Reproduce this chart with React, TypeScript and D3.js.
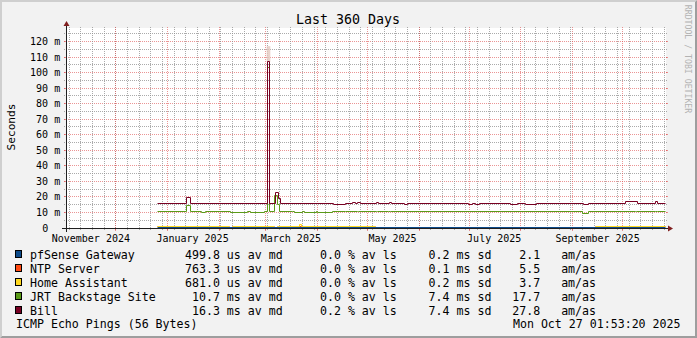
import React from 'react';
import * as d3 from 'd3';

const W = 697;
const H = 338;
const END = Date.UTC(2025, 9, 27, 1, 53, 20);
const SPAN_DAYS = 360;
const START = END - SPAN_DAYS * 864e5;
const Y_MAX = 128.7;

const title = 'Last 360 Days';
const yAxisTitle = 'Seconds';
const yMajorTicks = [0, 10, 20, 30, 40, 50, 60, 70, 80, 90, 100, 110, 120];
const yMinorTicks = [5, 15, 25, 35, 45, 55, 65, 75, 85, 95, 105, 115, 125];

// series: [day offset from window start, value in ms] (step-after); null = no data
const pfSensePts: [number, number | null][] = [[54.8, 0.5], [359.4, 0.5]];
const ntpPts: [number, number | null][] = [
  [54.8, 0.76], [98.0, null], [100.0, 0.76], [125.0, null], [127.0, 0.76], [185.4, null], [317.4, 0.76], [359.4, 0.76],
];
const haPts: [number, number | null][] = [
  [54.8, 0.68], [98.0, null], [100.0, 0.68], [125.0, null], [127.0, 0.68], [140.0, 2.0], [141.2, 0.68], [185.4, null], [317.4, 0.68], [359.4, 0.68],
];
const jrtPts: [number, number | null][] = [
  [54.8, 10.5], [72.4, 14.2], [74.4, 10.5], [81.4, 10.0], [83.4, 10.5], [98.4, 10.0], [108.6, 10.6], [110.4, 10.0],
  [118.8, 10.6], [120.8, 103], [122.2, 10.6], [125.2, 20.6], [126.8, 15.0], [127.8, 10.3], [136.0, 10.7], [137.0, 10.2],
  [142.0, 10.7], [143.0, 10.2], [150.0, 10.7], [151.0, 10.2], [160.0, 10.6], [167.4, 10.3], [174.6, 10.8], [175.2, 10.3],
  [186.4, 10.8], [187.0, 10.3], [193.6, 10.9], [194.4, 10.3], [310.0, 9.5], [313.2, 10.3], [341.4, 10.9], [342.4, 10.3],
  [353.6, 10.9], [354.6, 10.3], [359.4, 10.3],
];
const billPts: [number, number | null][] = [
  [54.8, 16.0], [72.4, 19.5], [74.4, 16.0], [120.8, 107], [122.2, 16.0], [125.6, 23.0], [127.2, 18.7], [128.4, 16.0],
  [160.2, 15.3], [167.4, 16.0], [171.6, 16.7], [173.4, 16.0], [174.6, 16.7], [176.4, 16.0], [186.0, 16.7], [187.2, 16.0],
  [193.8, 16.6], [195.0, 16.0], [203.4, 15.4], [204.6, 16.0], [241.2, 15.4], [243.6, 16.0], [245.4, 15.3], [248.4, 16.0],
  [266.4, 15.4], [270.6, 16.0], [275.4, 15.4], [282.0, 16.0], [310.2, 15.4], [313.2, 16.0], [335.4, 17.0], [342.6, 16.0],
  [353.4, 16.8], [354.6, 16.0], [359.4, 16.0],
];
// faint smoke above the spike: [day start, day end, low ms, high ms]
const billSmoke: [number, number, number, number][] = [[120.4, 122.6, 107, 117]];

const seriesNames = ['pfSense Gateway', 'NTP Server', 'Home Assistant', 'JRT Backstage Site', 'Bill'];
const seriesColors = ['#0c4a89', '#ff4a12', '#ffd820', '#5a9a18', '#780022'];
const seriesPts = [pfSensePts, ntpPts, haPts, jrtPts, billPts];
const medValues = [499.8, 763.3, 681.0, 10.7, 16.3];
const medUnits = ['u', 'u', 'u', 'm', 'm'];
const lossValues = [0.0, 0.0, 0.0, 0.0, 0.2];
const sdValues = [0.2, 0.1, 0.2, 7.4, 7.4];
const amasValues = [2.1, 5.5, 3.7, 17.7, 27.8];
const footerLeft = 'ICMP Echo Pings (56 Bytes)';
const footerRight = 'Mon Oct 27 01:53:20 2025';
const watermark = 'RRDTOOL / TOBI OETIKER';

const MONO = "'DejaVu Sans Mono', monospace";
const X0 = 66, XW = 600, Y0 = 228, YH = 200;

const x = d3.scaleUtc().domain([new Date(START), new Date(END)]).range([X0, X0 + XW]);
const y = d3.scaleLinear().domain([0, Y_MAX]).range([Y0, Y0 - YH]);
const dayDate = (d: number) => new Date(START + d * 864e5);
const snap = (v: number) => Math.floor(v) + 0.5;
const pad = (s: string, n: number) => s.padStart(n, ' ');

function stepPath(pts: [number, number | null][]) {
  let d = '';
  let pen = false;
  for (let i = 0; i < pts.length - 1; i++) {
    const [t, v] = pts[i];
    const tn = pts[i + 1][0];
    if (v == null) { pen = false; continue; }
    const xa = snap(x(dayDate(t))), xb = snap(x(dayDate(tn))), yy = snap(y(v));
    d += (pen ? 'L' : 'M') + xa + ',' + yy + 'L' + xb + ',' + yy;
    pen = true;
  }
  return d;
}

export default function App() {
  const months = d3.utcMonth.range(new Date(START), new Date(END));
  const sundays = d3.utcSunday.range(new Date(START), new Date(END));
  const labelMonths = d3.utcMonth.every(2)!.range(d3.utcMonth.floor(new Date(START)), new Date(END));
  const fmt = d3.utcFormat('%B %Y');
  const gridMinor = 'rgba(143,143,143,0.75)';
  const gridMajor = 'rgba(222,79,79,0.6)';

  return (
    <svg width={W} height={H} style={{ position: 'absolute', left: 0, top: 0 }} xmlns="http://www.w3.org/2000/svg">
      <rect x={0} y={0} width={W} height={H} fill="#f2f2f2" />
      <polygon points={`0,${H} 2,${H - 2} 2,2 ${W - 2},2 ${W},0 0,0`} fill="#cfcfcf" />
      <polygon points={`2,${H - 2} ${W - 2},${H - 2} ${W - 2},2 ${W},0 ${W},${H} 0,${H}`} fill="#9e9e9e" />
      <rect x={X0} y={Y0 - YH} width={XW} height={YH} fill="#ffffff" />

      {/* horizontal grid */}
      {yMinorTicks.map((v) => {
        const yy = snap(y(v));
        return (
          <g key={'hm' + v}>
            <line x1={X0 - 2} x2={X0 + XW + 2} y1={yy} y2={yy} stroke={gridMinor} strokeDasharray="1,1" />
          </g>
        );
      })}
      {yMajorTicks.filter((v) => v > 0).map((v) => {
        const yy = snap(y(v));
        return (
          <g key={'hM' + v}>
            <line x1={X0 - 2} x2={X0 + XW + 2} y1={yy} y2={yy} stroke={gridMajor} strokeDasharray="1,1" />
            <line x1={X0 - 2} x2={X0} y1={yy} y2={yy} stroke={gridMajor} />
            <line x1={X0 + XW} x2={X0 + XW + 2} y1={yy} y2={yy} stroke={gridMajor} />
          </g>
        );
      })}
      {/* vertical grid */}
      {sundays.map((d) => {
        const xx = snap(x(d));
        return <line key={'vm' + d.getTime()} x1={xx} x2={xx} y1={Y0 + 2} y2={Y0 - YH - 2} stroke={gridMinor} strokeDasharray="1,1" />;
      })}
      {months.map((d) => {
        const xx = snap(x(d));
        return (
          <g key={'vM' + d.getTime()}>
            <line x1={xx} x2={xx} y1={Y0 + 2} y2={Y0 - YH - 2} stroke={gridMajor} strokeDasharray="1,1" />
            <line x1={xx} x2={xx} y1={Y0} y2={Y0 + 3} stroke={gridMajor} />
          </g>
        );
      })}

      {/* y labels */}
      {yMajorTicks.map((v) => {
        const yy = snap(y(v)) + 3.5;
        return v === 0 ? (
          <text key={'yl' + v} x={48.2} y={yy} fontFamily={MONO} fontSize={10} textAnchor="end" fill="#000">0</text>
        ) : (
          <text key={'yl' + v} x={60.2} y={yy} fontFamily={MONO} fontSize={10} textAnchor="end" fill="#000">{`${v} m`}</text>
        );
      })}
      {/* x labels */}
      {labelMonths.map((d) => (
        <text key={'xl' + d.getTime()} x={x(new Date(d.getTime() + 15 * 864e5))} y={241.5} fontFamily={MONO} fontSize={10} textAnchor="middle" fill="#000">
          {fmt(d)}
        </text>
      ))}

      {/* data */}
      {billSmoke.map(([a, b, lo, hi], i) => (
        <rect key={'sm' + i} x={x(dayDate(a))} width={x(dayDate(b)) - x(dayDate(a))} y={y(hi)} height={y(lo) - y(hi)} fill="#e4c8bf" opacity={0.8} />
      ))}
      {seriesPts.map((pts, i) => (
        <path key={'s' + i} d={stepPath(pts)} fill="none" stroke={seriesColors[i]} strokeWidth={1} />
      ))}

      {/* axes */}
      <line x1={X0 - 4} x2={X0 + XW + 4} y1={Y0 + 0.5} y2={Y0 + 0.5} stroke="#1f1f1f" />
      <line x1={X0 + 0.5} x2={X0 + 0.5} y1={Y0 + 4} y2={Y0 - YH - 4} stroke="#1f1f1f" />
      <polygon points={`${X0 + XW + 2},${Y0 - 2.5} ${X0 + XW + 2},${Y0 + 3.5} ${X0 + XW + 7},${Y0 + 0.5}`} fill="#801f1f" />
      <polygon points={`${X0 - 2.5},${Y0 - YH - 2} ${X0 + 3.5},${Y0 - YH - 2} ${X0 + 0.5},${Y0 - YH - 7}`} fill="#801f1f" />

      {/* titles */}
      <text x={348} y={24} fontFamily={MONO} fontSize={13.3} textAnchor="middle" fill="#000">{title}</text>
      <text x={0} y={0} transform={`translate(14.5,127) rotate(-90)`} fontFamily={MONO} fontSize={11.2} textAnchor="middle" fill="#000">{yAxisTitle}</text>
      <text x={0} y={0} transform={`translate(688,59) rotate(90)`} fontFamily={MONO} fontSize={8.2} textAnchor="middle" dominantBaseline="central" fill="#b3b3b3">{watermark}</text>

      {/* legend */}
      {seriesNames.map((name, i) => {
        const by = 258.5 + i * 14;
        const common = { fontFamily: MONO, fontSize: 11.6, fill: '#000', xmlSpace: 'preserve' as any, style: { whiteSpace: 'pre' as const } };
        return (
          <g key={'lg' + i}>
            <rect x={15.5} y={by - 8} width={6} height={7} fill={seriesColors[i]} stroke="#000" strokeWidth={1} />
            <text x={30} y={by} {...common}>{name}</text>
            <text x={178} y={by} {...common}>{`${pad(medValues[i].toFixed(1), 6)} ${medUnits[i]}s av md`}</text>
            <text x={306} y={by} {...common}>{`${pad(lossValues[i].toFixed(1), 5)} % av ls`}</text>
            <text x={414.6} y={by} {...common}>{`${pad(sdValues[i].toFixed(1), 5)} ms sd`}</text>
            <text x={505.3} y={by} {...common}>{`${pad(amasValues[i].toFixed(1), 5)}   am/as`}</text>
          </g>
        );
      })}
      <text x={16} y={327.5} fontFamily={MONO} fontSize={11.6} fill="#000">{footerLeft}</text>
      <text x={680.5} y={327.5} fontFamily={MONO} fontSize={11.6} textAnchor="end" fill="#000">{footerRight}</text>
    </svg>
  );
}
